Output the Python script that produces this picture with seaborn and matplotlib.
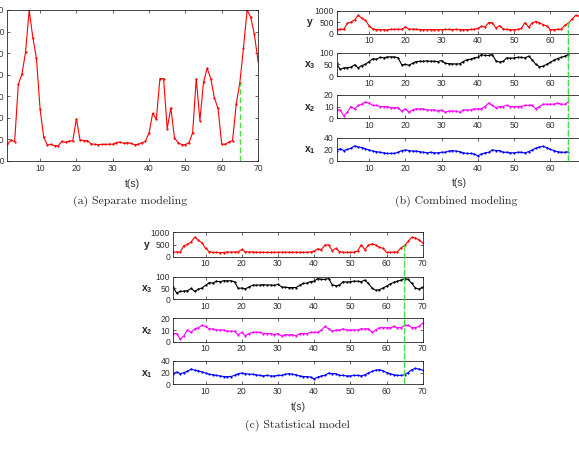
import numpy as np
import matplotlib
matplotlib.use("Agg")
import matplotlib.pyplot as plt
import seaborn as sns
from matplotlib.patches import ConnectionPatch

# Datos (t = 1..70)
t = np.arange(1, 71)
y = [177, 197, 190, 455, 503, 604, 800, 672, 576, 341,
     210, 174, 177, 171, 171, 191, 187, 192, 194, 296,
     197, 195, 195, 180, 177, 176, 177, 177, 178, 178,
     185, 188, 182, 185, 182, 176, 177, 185, 191, 231,
     321, 293, 482, 482, 250, 347, 208, 185, 176, 176,
     185, 231, 482, 287, 466, 530, 482, 391, 344, 178,
     178, 188, 195, 363, 463, 625, 800, 766, 687, 565]
x3 = [55, 28, 35, 36, 38, 48, 35, 45, 50, 62,
      74, 72, 80, 78, 82, 82, 82, 78, 48, 50,
      46, 55, 62, 63, 63, 65, 63, 63, 62, 66,
      55, 53, 52, 52, 52, 62, 70, 72, 78, 80,
      92, 88, 88, 92, 65, 60, 63, 78, 76, 78,
      80, 80, 78, 85, 70, 50, 40, 42, 50, 58,
      68, 75, 80, 85, 92, 88, 70, 50, 45, 55]
x2 = [7, 7, 2, 5, 10, 8, 11, 12, 14, 13,
      11, 11, 10, 10, 10, 9, 9, 9, 6, 8,
      5, 7, 8, 8, 8, 7, 7, 7, 6, 7,
      5, 6, 6, 6, 5, 7, 7, 7, 8, 8,
      8, 10, 13, 11, 9, 10, 10, 11, 10, 10,
      10, 10, 11, 11, 11, 8, 10, 12, 12, 12,
      12, 13, 12, 12, 14, 14, 12, 12, 13, 16]
x1 = [18, 21, 18, 20, 22, 26, 24, 23, 21, 19,
      17, 16, 15, 14, 13, 13, 13, 15, 18, 19,
      18, 17, 17, 16, 15, 14, 15, 14, 14, 15,
      15, 17, 18, 17, 16, 14, 13, 13, 12, 9,
      12, 14, 15, 19, 18, 18, 15, 15, 14, 14,
      15, 15, 14, 16, 19, 22, 24, 25, 23, 20,
      18, 16, 15, 15, 16, 20, 25, 27, 26, 24]

t_corte = 65  # linea verde
series = [("y", y, "#ff0000", [0, 500, 1000]),
          ("x_3", x3, "#000000", [0, 50, 100]),
          ("x_2", x2, "#ff00ff", [0, 10, 20]),
          ("x_1", x1, "#0000ff", [0, 20, 40])]
verde = "#44dd44"

sns.set_style("ticks")
plt.rcParams['font.family'] = ['Liberation Sans', 'DejaVu Sans']
plt.rcParams['mathtext.fontset'] = 'custom'
plt.rcParams['mathtext.rm'] = 'Liberation Sans'
plt.rcParams['mathtext.bf'] = 'Liberation Sans:bold'

W, H = 579, 450
fig = plt.figure(figsize=(W / 100, H / 100), dpi=100)


def nuevo_eje(izq, arriba, der, abajo):
    return fig.add_axes([izq / W, 1 - abajo / H, (der - izq) / W, (abajo - arriba) / H])


def estilo(ax):
    for s in ax.spines.values():
        s.set_visible(True)
        s.set_linewidth(0.6)
        s.set_color("#262626")
    ax.tick_params(direction="in", top=True, right=True, length=2.5, width=0.5,
                   labelsize=6.2, labelcolor="#333333", pad=2)
    ax.set_xlim(1, 70)
    ax.set_xticks([10, 20, 30, 40, 50, 60, 70])
    ax.set_xlabel("")
    ax.set_ylabel("")


def linea(ax, xs, ys, color):
    sns.lineplot(x=xs, y=ys, ax=ax, color=color, linewidth=0.8, marker="o",
                 markersize=1.6, markeredgewidth=0, markeredgecolor=color)


def panel_multiple(izq, der, filas, fin_x):
    ejes = []
    for (nombre, datos, color, ticks), (arriba, abajo) in zip(series, filas):
        ax = nuevo_eje(izq, arriba, der, abajo)
        n = len(t) if nombre == "y" else fin_x
        linea(ax, t[:n], datos[:n], color)
        estilo(ax)
        ax.set_ylim(ticks[0], ticks[-1])
        ax.set_yticks(ticks)
        etiqueta = r"$\mathbf{y}$" if nombre == "y" else r"$\mathbf{%s}$" % nombre
        ax.set_ylabel(etiqueta, rotation=0, fontsize=7.5, ha="center", va="center")
        ax.yaxis.set_label_coords(-0.105, 0.45)
        ejes.append(ax)
    con = ConnectionPatch(xyA=(t_corte, 0), coordsA="data", axesA=ejes[-1],
                          xyB=(t_corte, y[t_corte - 1]), coordsB="data", axesB=ejes[0],
                          color=verde, linewidth=1.0, linestyle=(0, (4, 2)))
    fig.add_artist(con)
    return ejes


# (a) Modelado separado (etiquetas del eje y cortadas por el borde, como en el original)
ax_a = nuevo_eje(7.4, 10, 258, 161)
linea(ax_a, t, y, "#ff0000")
estilo(ax_a)
ax_a.set_ylim(100, 800)
ax_a.set_yticks(range(100, 801, 100))
ax_a.plot([t_corte, t_corte], [100, y[t_corte - 1]], color=verde, linewidth=1.0,
          linestyle=(0, (4, 2)))
fig.text(132 / W, 1 - 184 / H, "t(s)", ha="center", va="center", fontsize=7.5, color="#333333")
fig.text(130 / W, 1 - 201 / H, "(a) Separate modeling", ha="center", va="center",
         fontsize=8.5, family="cmr10")

# (b) Modelado combinado
panel_multiple(336.5, 586.5, [(10.7, 33.7), (52.7, 76), (95, 118), (137.7, 161)], t_corte)
fig.text(459 / W, 1 - 183 / H, "t(s)", ha="center", va="center", fontsize=7.5, color="#333333")
fig.text(456 / W, 1 - 201 / H, "(b) Combined modeling", ha="center", va="center",
         fontsize=8.5, family="cmr10")

# (c) Modelo estadistico
panel_multiple(173, 422.7, [(232.3, 256.7), (276.7, 299.3), (318.3, 341.7), (361, 384)], len(t))
fig.text(298 / W, 1 - 407 / H, "t(s)", ha="center", va="center", fontsize=7.5, color="#333333")
fig.text(297 / W, 1 - 425 / H, "(c) Statistical model", ha="center", va="center",
         fontsize=8.5, family="cmr10")

fig.savefig("out.png", dpi=100)
